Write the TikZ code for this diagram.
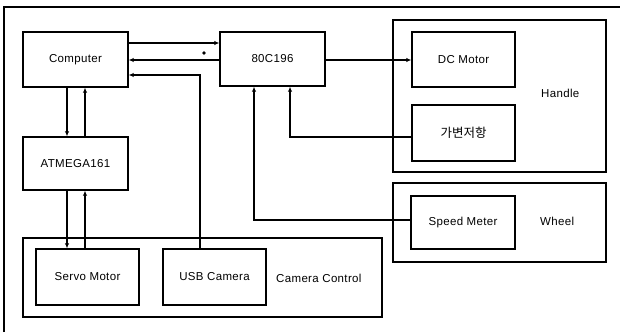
\documentclass[tikz,border=0pt]{standalone}
\usepackage{fontspec}
\setmainfont{Liberation Sans}[LetterSpace=3]
\newfontfamily\krfont{Noto Sans CJK KR}
\usetikzlibrary{arrows.meta}
\begin{document}
\begin{tikzpicture}[x=1pt,y=-1pt,
  box/.style={draw,line width=1.4pt,rectangle,inner sep=0pt,font=\fontsize{11.5}{12}\selectfont},
  grp/.style={draw,line width=1.4pt,rectangle,inner sep=0pt},
  lbl/.style={font=\fontsize{11.5}{12}\selectfont,inner sep=0pt},
  conn/.style={line width=1.4pt,-{Latex[length=5pt,width=4.5pt]}},
  line/.style={line width=1.4pt}]
\useasboundingbox (0,0) rectangle (620,332);
\fill[white] (0,0) rectangle (620,332);
% outer frame (left and top only)
\draw[line width=1.8pt] (4,332) -- (4,7) -- (620,7);
% groups
\node[grp,minimum width=213pt,minimum height=152pt] (handle) at (499.5,96) {};
\node[grp,minimum width=213pt,minimum height=79pt] (wheel) at (499.5,222.5) {};
\node[grp,minimum width=359pt,minimum height=79pt] (camctl) at (202.5,277.5) {};
% boxes
\node[box,minimum width=105pt,minimum height=55pt] (comp) at (75.5,59.5) {Computer};
\node[box,minimum width=105pt,minimum height=54pt] (mcu) at (272.5,59) {80C196};
\node[box,minimum width=105pt,minimum height=53pt] (atm) at (75.5,163.5) {ATMEGA161};
\node[box,minimum width=103pt,minimum height=56pt] (servo) at (87.5,277) {Servo Motor};
\node[box,minimum width=103pt,minimum height=56pt] (usb) at (214.5,277) {USB Camera};
\node[box,minimum width=103pt,minimum height=55pt] (dc) at (463.5,59.5) {DC Motor};
\node[box,minimum width=103pt,minimum height=56pt] (var) at (463.5,133) {\fontsize{12.5}{13}\krfont 가변저항};
\node[box,minimum width=104pt,minimum height=53pt] (speed) at (463,222.5) {Speed Meter};
% group labels
\node[lbl,anchor=west] (hlbl) at (541,93) {Handle};
\node[lbl,anchor=west] (wlbl) at (540,221) {Wheel};
\node[lbl,anchor=west] (clbl) at (276,278) {Camera Control};
% connectors
\draw[conn] (comp.east |- 0,43) -- (mcu.west |- 0,43);
\draw[conn] (mcu.west |- 0,60) -- (comp.east |- 0,60);
\coordinate (dot) at (204,53);
\fill (dot) circle (1.8pt);
\draw[conn] (usb.north -| 200,0) |- (comp.east |- 0,75);
\draw[conn] (comp.south -| 67,0) -- (atm.north -| 67,0);
\draw[conn] (atm.north -| 85,0) -- (comp.south -| 85,0);
\draw[conn] (atm.south -| 67,0) -- (servo.north -| 67,0);
\draw[conn] (servo.north -| 85,0) -- (atm.south -| 85,0);
\draw[conn] (mcu.east |- 0,60) -- (dc.west |- 0,60);
\draw[conn] (var.west |- 0,137) -| (mcu.south -| 290,0);
\draw[conn] (speed.west |- 0,220) -| (mcu.south -| 254,0);
\end{tikzpicture}
\end{document}
